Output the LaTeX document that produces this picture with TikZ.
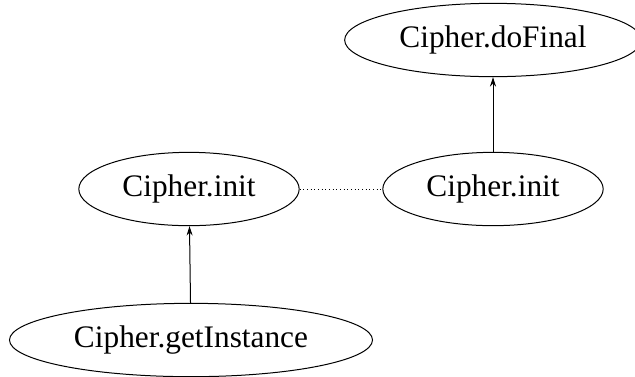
\documentclass[tikz,border=0pt]{standalone}
\usepackage{fontspec}
\setmainfont{Liberation Serif}
\usetikzlibrary{shapes.geometric,arrows.meta}

\tikzset{
  callnode/.style={draw, ellipse, line width=0.75pt, inner xsep=8.5pt, minimum height=55pt, font=\fontsize{23.5}{28}\selectfont},
  callarrow/.style={-{Stealth[length=7pt,width=4.5pt]}, line width=0.75pt},
  samevar/.style={dotted, line width=0.75pt}
}

\begin{document}
\begin{tikzpicture}[x=0.75pt,y=0.75pt,yscale=-1,xscale=1]
\useasboundingbox (0,0) rectangle (635,376);

% Call nodes
\node [callnode] (final) at (493,40) {Cipher.doFinal};
\node [callnode] (initA) at (189,189) {Cipher.init};
\node [callnode] (initB) at (493,189) {Cipher.init};
\node [callnode] (getinst) at (191,340) {Cipher.getInstance};

% Edges
\draw [callarrow] (getinst) -- (initA);
\draw [callarrow] (initB) -- (final);
\draw [samevar] (initA) -- (initB);

\end{tikzpicture}
\end{document}
